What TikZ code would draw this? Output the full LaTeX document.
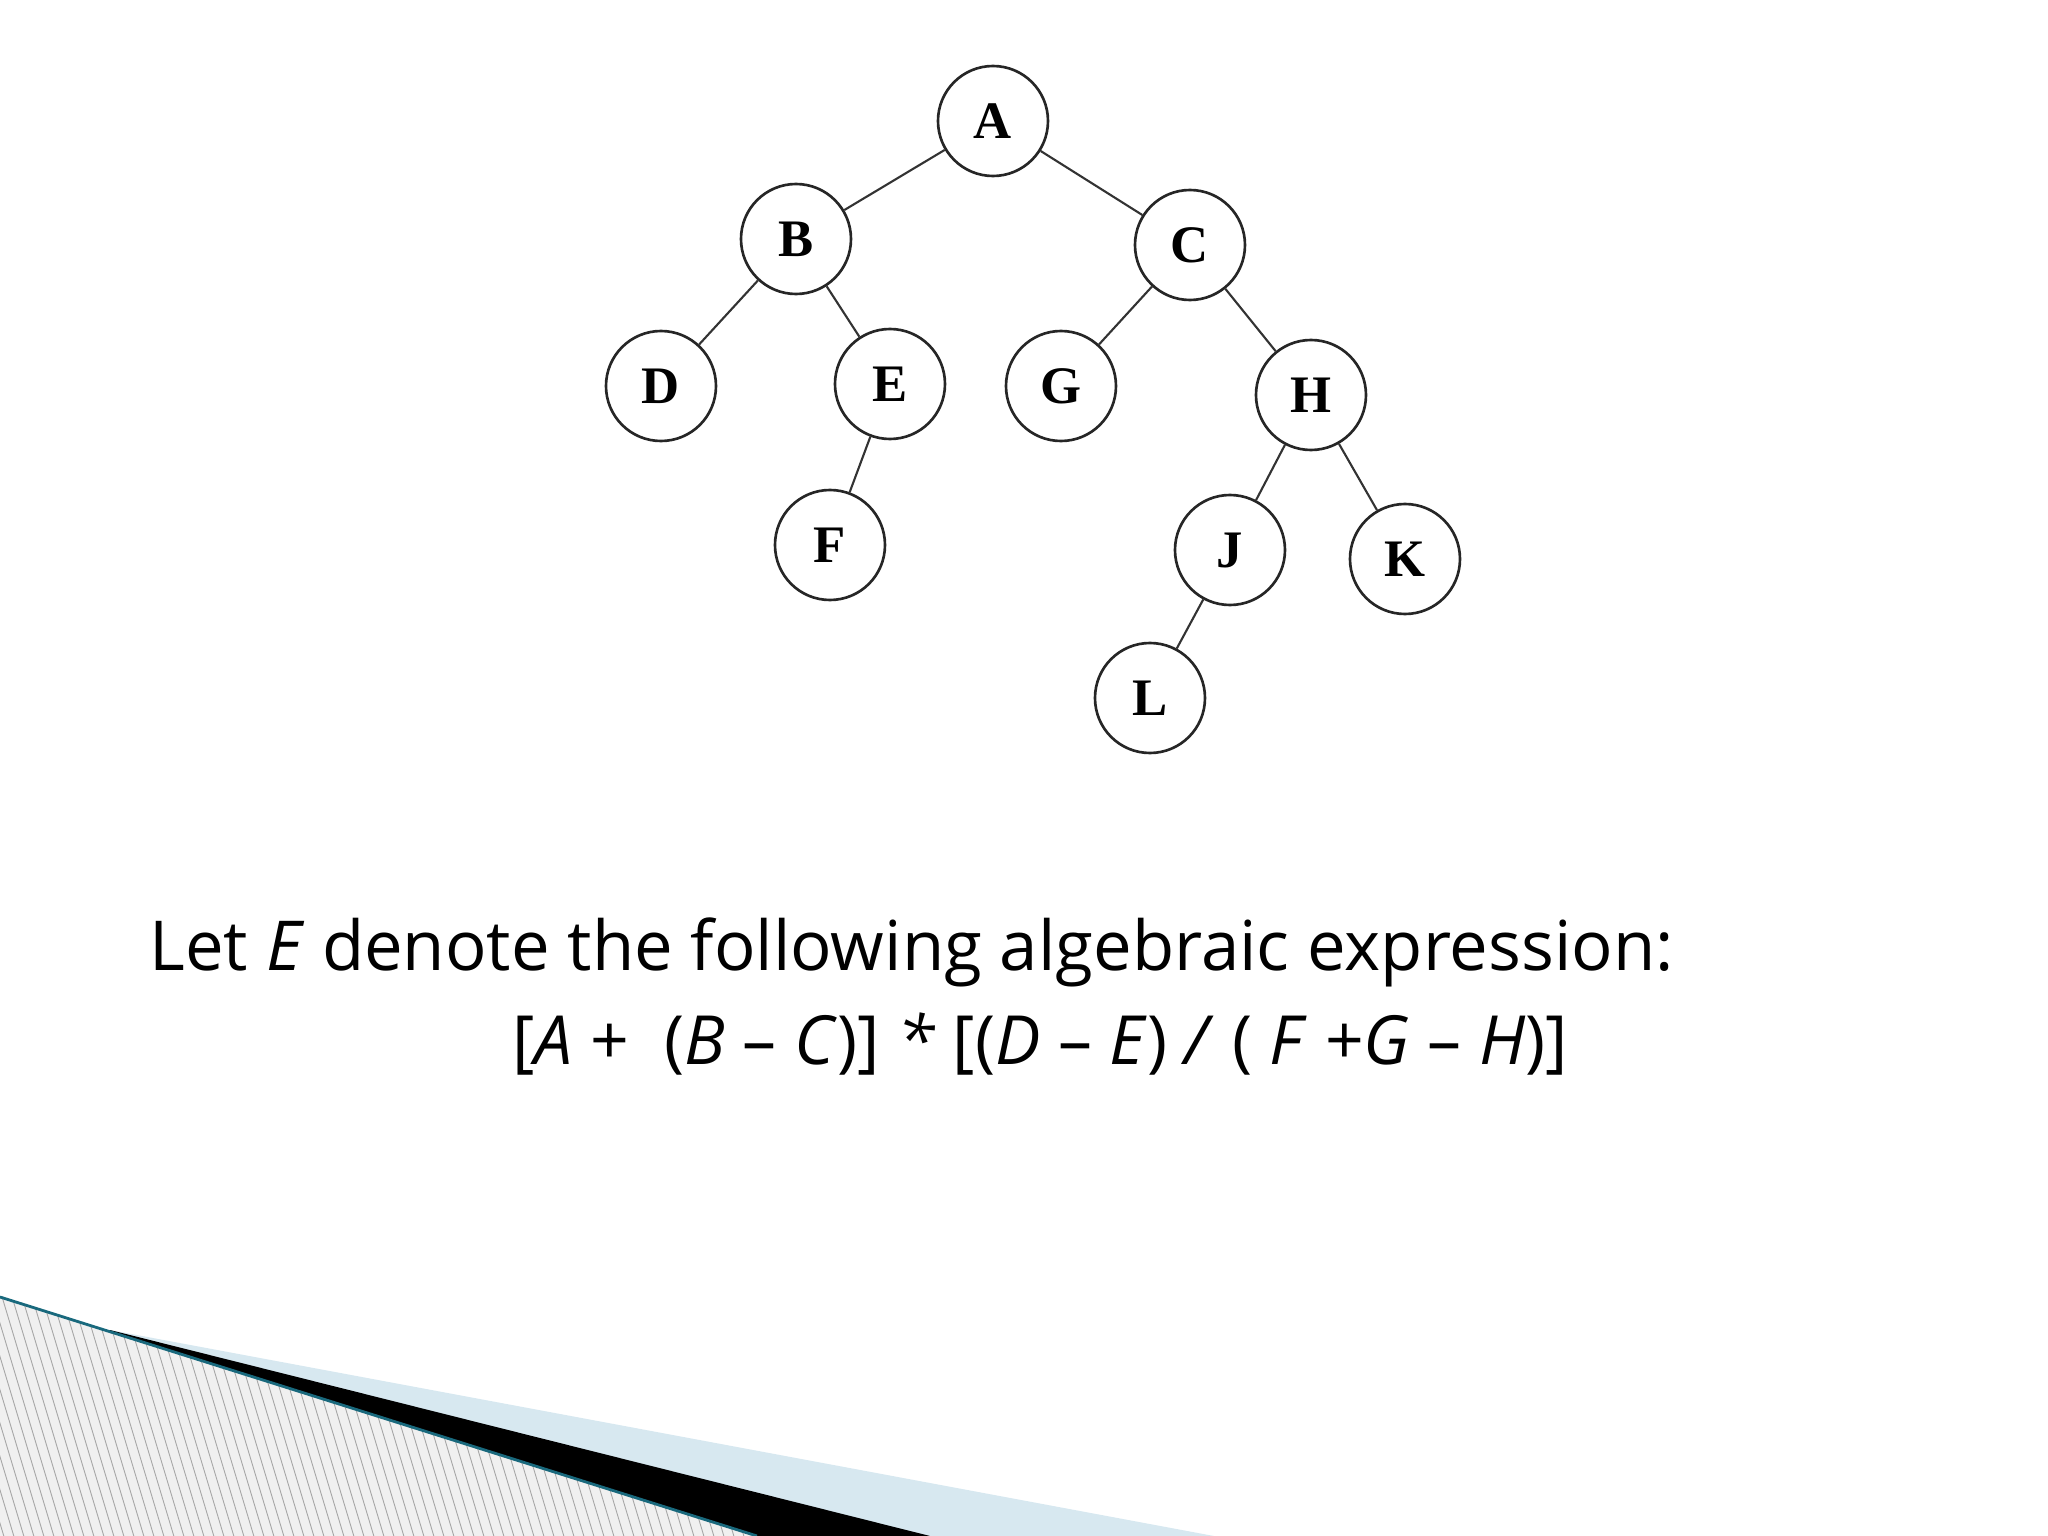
\documentclass[tikz,border=0pt]{standalone}
\usepackage{fontspec}
\setmainfont{Open Sans}
\newfontfamily\treefont{Liberation Serif}
\usetikzlibrary{positioning}
\definecolor{edgeteal}{RGB}{25,105,125}
\definecolor{paleblue}{RGB}{215,232,240}

\begin{document}
\begin{tikzpicture}[auto, on grid, thick, tree node/.style={circle,draw=black!85,line width=0.75pt,minimum size=1.1cm,inner sep=0pt,font=\treefont\bfseries\fontsize{15}{18}\selectfont}, hatch/.style={gray!70,line width=0.25pt}]

      \useasboundingbox (0,0) rectangle (20.48,-15.36);

      \node[tree node] (A) at (9.93,-1.21) {A};
      \node[tree node] (B) [below left=1.18cm and 1.97cm of A] {B};
      \node[tree node] (C) [below right=1.24cm and 1.97cm of A] {C};
      \node[tree node] (D) [below left=1.47cm and 1.35cm of B] {D};
      \node[tree node] (E) [below right=1.45cm and 0.94cm of B] {E};
      \node[tree node] (F) [below left=1.61cm and 0.60cm of E] {F};
      \node[tree node] (G) [below left=1.41cm and 1.29cm of C] {G};
      \node[tree node] (H) [below right=1.50cm and 1.21cm of C] {H};
      \node[tree node] (J) [below left=1.55cm and 0.81cm of H] {J};
      \node[tree node] (K) [below right=1.64cm and 0.94cm of H] {K};
      \node[tree node] (L) [below left=1.48cm and 0.80cm of J] {L};

      \path[draw=black!80, line width=0.6pt]
        (A) edge (B)
        (A) edge (C)
        (B) edge (D)
        (B) edge (E)
        (E) edge (F)
        (C) edge (G)
        (C) edge (H)
        (H) edge (J)
        (H) edge (K)
        (J) edge (L);

      % text below the tree
      \node[anchor=base west, inner sep=0pt, font=\fontsize{19.6}{23}\selectfont] (let) at (1.48,-9.70)
        {Let \textit{E} denote the following algebraic expression:};
      \node[anchor=base west, inner sep=0pt, font=\fontsize{19.3}{23}\selectfont] (expr) at (5.11,-10.65)
        {[\textit{A} +\ \ (\textit{B} – \textit{C})] \textit{*} [(\textit{D} – \textit{E}) \textit{/} ( \textit{F} +\textit{G} – \textit{H})]};

      % corner decoration
      \begin{scope}
        \clip (0,0) rectangle (20.48,-15.36);
        \fill[paleblue] (1.10,-13.30) -- (12.14,-15.36) -- (0,-15.36) -- cycle;
        \fill[black] (1.10,-13.30) -- (9.30,-15.36) -- (0,-15.36) -- cycle;
        \begin{scope}
          \clip (0,-12.97) -- (7.57,-15.36) -- (0,-15.36) -- cycle;
          \fill[gray!12] (0,-12.9) rectangle (7.6,-15.4);
          \foreach \x in {-0.8,-0.7,...,7.6}
            \draw[hatch] (\x,-12.9) -- ++(0.75,-2.5);
        \end{scope}
        \draw[edgeteal, line width=0.8pt] (0,-12.97) -- (7.57,-15.36);
      \end{scope}

\end{tikzpicture}
\end{document}
